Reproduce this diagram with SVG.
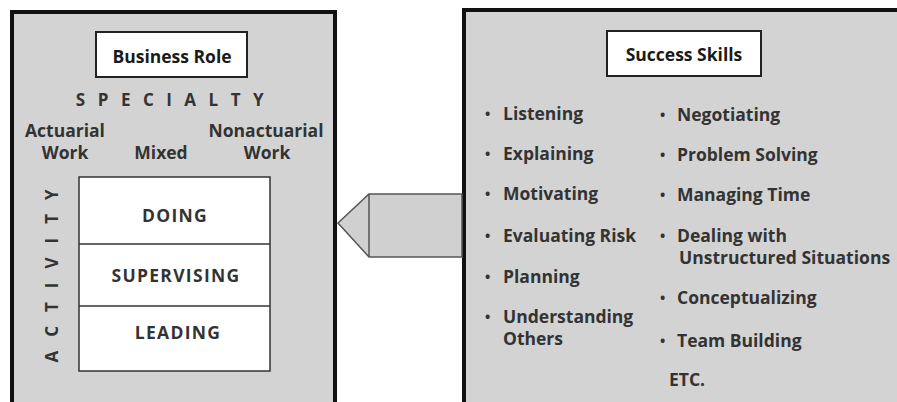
<svg xmlns="http://www.w3.org/2000/svg" width="897" height="402" viewBox="0 0 897 402">
<style>
.panel{fill:#d3d3d3;stroke:#111;stroke-width:4}
.box{fill:#fff;stroke:#222;stroke-width:2}
.grid{fill:#fff;stroke:#333;stroke-width:1.5}
text{font-family:"Open Sans","Liberation Sans",sans-serif;font-weight:700;fill:#333;font-size:17.5px}
.c{text-anchor:middle}
.caps{letter-spacing:1.3px}
.title{fill:#1a1a1a}
.sp{font-size:17px;letter-spacing:12.5px}
.b{font-size:14px}
.arrow{fill:#d0d0d0;stroke:#555;stroke-width:1.5}
</style>
<rect width="897" height="402" fill="#fff"/>
<g id="business-role">
  <rect class="panel" x="12" y="12" width="323" height="400"/>
  <rect class="box" x="96" y="32" width="151" height="45"/>
  <text class="c title" x="172" y="63">Business Role</text>
  <text class="c sp" x="176" y="106">SPECIALTY</text>
  <text class="c" x="65" y="137">Actuarial</text>
  <text class="c" x="65" y="159">Work</text>
  <text class="c" x="161" y="159">Mixed</text>
  <text class="c" x="266" y="137">Nonactuarial</text>
  <text class="c" x="267" y="159">Work</text>
  <text class="c sp" style="letter-spacing:14px" transform="translate(58,269) rotate(-90)" x="0" y="0">ACTIVITY</text>
  <g id="activity-grid">
    <rect class="grid" x="79" y="177" width="191" height="194"/>
    <line class="grid" x1="79" y1="244" x2="270" y2="244"/>
    <line class="grid" x1="79" y1="306" x2="270" y2="306"/>
    <text class="c caps" x="175" y="222">DOING</text>
    <text class="c caps" x="176" y="282">SUPERVISING</text>
    <text class="c caps" x="178" y="339">LEADING</text>
  </g>
</g>
<g id="success-skills">
  <rect class="panel" x="464" y="10" width="450" height="400"/>
  <rect class="box" x="607" y="31" width="154" height="45"/>
  <text class="c title" x="684" y="61">Success Skills</text>
  <g id="skills-left">
    <text y="120"><tspan class="b" x="485" dy="-1.5">•</tspan><tspan x="503" dy="1.5">Listening</tspan></text>
    <text y="160"><tspan class="b" x="485" dy="-1.5">•</tspan><tspan x="503" dy="1.5">Explaining</tspan></text>
    <text y="200"><tspan class="b" x="485" dy="-1.5">•</tspan><tspan x="503" dy="1.5">Motivating</tspan></text>
    <text y="242"><tspan class="b" x="485" dy="-1.5">•</tspan><tspan x="503" dy="1.5">Evaluating Risk</tspan></text>
    <text y="283"><tspan class="b" x="485" dy="-1.5">•</tspan><tspan x="503" dy="1.5">Planning</tspan></text>
    <text y="323"><tspan class="b" x="485" dy="-1.5">•</tspan><tspan x="503" dy="1.5">Understanding</tspan></text>
    <text x="503" y="345">Others</text>
  </g>
  <g id="skills-right">
    <text y="121"><tspan class="b" x="660" dy="-1.5">•</tspan><tspan x="677" dy="1.5">Negotiating</tspan></text>
    <text y="161"><tspan class="b" x="660" dy="-1.5">•</tspan><tspan x="677" dy="1.5">Problem Solving</tspan></text>
    <text y="201"><tspan class="b" x="660" dy="-1.5">•</tspan><tspan x="677" dy="1.5">Managing Time</tspan></text>
    <text y="242"><tspan class="b" x="660" dy="-1.5">•</tspan><tspan x="677" dy="1.5">Dealing with</tspan></text>
    <text x="679" y="264">Unstructured Situations</text>
    <text y="304"><tspan class="b" x="660" dy="-1.5">•</tspan><tspan x="677" dy="1.5">Conceptualizing</tspan></text>
    <text y="347"><tspan class="b" x="660" dy="-1.5">•</tspan><tspan x="677" dy="1.5">Team Building</tspan></text>
    <text x="669" y="386">ETC.</text>
  </g>
</g>
<g id="connectors">
  <path class="arrow" d="M462,194 L369,194 L338,223 L369,257 L462,257 Z"/>
  <line class="arrow" x1="369" y1="194" x2="369" y2="257"/>
</g>
</svg>
